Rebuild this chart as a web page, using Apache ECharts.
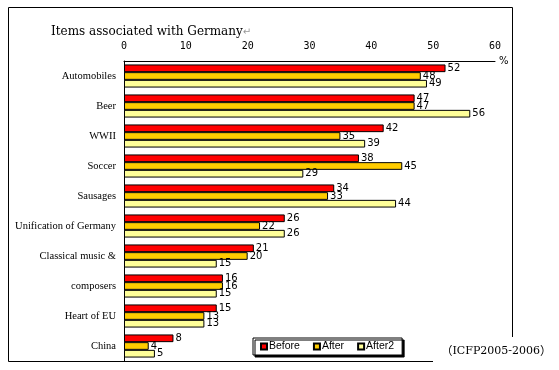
<!DOCTYPE html>
<html><head><meta charset="utf-8">
<script src="https://cdn.jsdelivr.net/npm/echarts@6/dist/echarts.min.js"></script>
<style>html,body{margin:0;padding:0;background:#fff}#c{width:559px;height:370px}</style>
</head><body><div id="c"></div>
<script>
const categories = ['Automobiles','Beer','WWII','Soccer','Sausages','Unification of Germany','Classical music &','composers','Heart of EU','China'];
const before = [52,47,42,38,34,26,21,16,15,8];
const after = [48,47,35,45,33,22,20,16,13,4];
const after2 = [49,56,39,29,44,26,15,15,13,5];
const xTicks = {min:0, max:60, interval:10};

const chart = echarts.init(document.getElementById('c'));
const lbl = {show:true, position:'right', distance:2, color:'#000', fontFamily:'DejaVu Sans', fontSize:10};
function ser(name, data, color){
  return {name, type:'bar', data, barGap:'0%', barCategoryGap:'23%',
    itemStyle:{color, borderColor:'#000', borderWidth:1}, label:lbl, animation:false};
}
chart.setOption({
  animation:false,
  title:{text:'{a|Items associated with Germany}{b|↵}', left:46, top:21,
    textStyle:{fontWeight:'normal', rich:{a:{fontFamily:'DejaVu Serif', fontSize:12, fontWeight:'normal', color:'#000'}, b:{fontFamily:'DejaVu Sans', fontSize:10, fontWeight:'normal', color:'#999'}}}},
  grid:{left:124, top:61, right:64, bottom:9, containLabel:false},
  xAxis:{type:'value', position:'top', min:xTicks.min, max:xTicks.max, interval:xTicks.interval,
    axisLine:{show:true, lineStyle:{color:'#000', width:1}}, axisTick:{show:false}, splitLine:{show:false},
    axisLabel:{margin:10, color:'#000', fontFamily:'DejaVu Sans Mono', fontSize:10},
    name:'%', nameLocation:'end', nameGap:4, nameTextStyle:{color:'#000', fontFamily:'DejaVu Sans', fontSize:10, verticalAlign:'middle'}},
  yAxis:{type:'category', data:categories, inverse:true,
    axisLine:{show:true, lineStyle:{color:'#000', width:1}}, axisTick:{show:false},
    axisLabel:{margin:8, color:'#000', fontFamily:'Liberation Serif', fontSize:10.5}},
  legend:{data:['Before','After','After2'], left:253, top:338, orient:'horizontal',
    icon:'rect', itemWidth:6, itemHeight:6, itemGap:13, padding:[3,8,3,7],
    backgroundColor:'#fff', borderColor:'#000', borderWidth:1,
    shadowColor:'#000', shadowBlur:0, shadowOffsetX:2, shadowOffsetY:2,
    textStyle:{fontFamily:'Liberation Sans', fontSize:10.5, color:'#000', padding:[0,0,0,-3]}},
  graphic:[
    {type:'polyline', shape:{points:[[433,361.5],[8.5,361.5],[8.5,7.5],[512.5,7.5],[512.5,337]]},
      style:{stroke:'#000', lineWidth:1, fill:null}, silent:true},
    {type:'text', left:441, top:345, style:{
      text:'{p|（}{t|ICFP2005-2006}{p|）}',
      rich:{p:{fontFamily:'Noto Sans CJK JP', fontSize:11.5, fill:'#000'}, t:{fontFamily:'DejaVu Serif', fontSize:11, fill:'#000'}}}}
  ],
  series:[ser('Before', before, '#FF0000'), ser('After', after, '#FFCC00'), ser('After2', after2, '#FFFF99')]
});
</script></body></html>
